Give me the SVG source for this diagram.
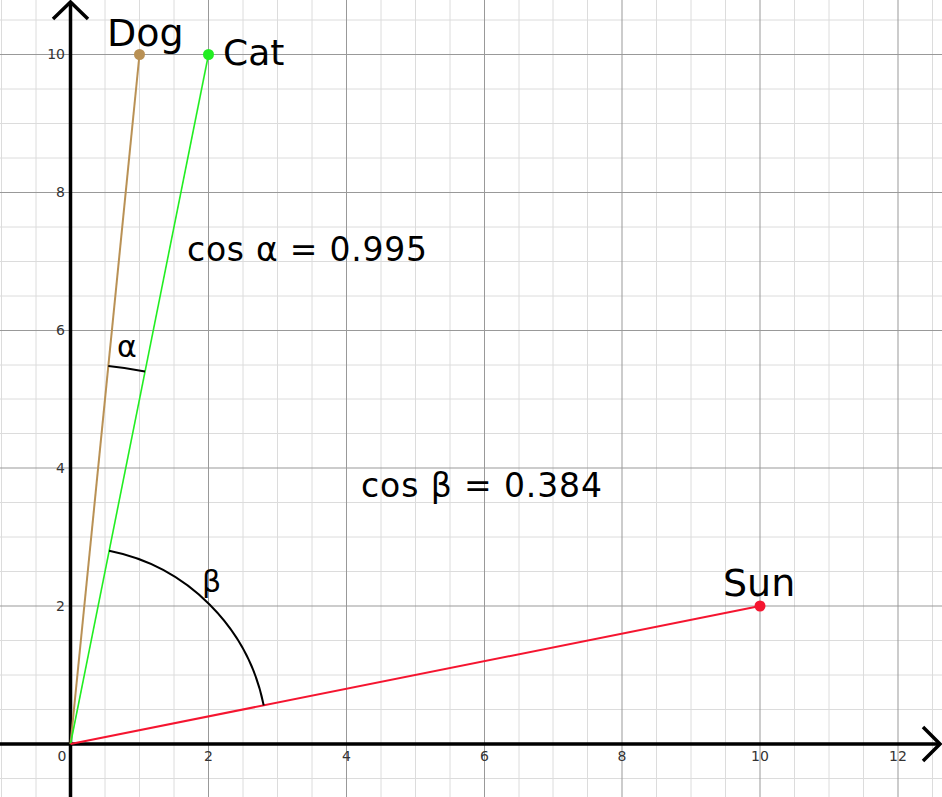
<svg xmlns="http://www.w3.org/2000/svg" width="942" height="797" viewBox="0 0 942 797">
<style>
.minor{stroke:#dcdcdc;stroke-width:1;fill:none}
.major{stroke:#999;stroke-width:1;fill:none}
.axis{stroke:#000;stroke-width:3.5;fill:none}
.tick{font-family:"DejaVu Sans","Liberation Sans",sans-serif;font-size:14px;fill:#333}
.lbl{font-family:"DejaVu Sans","Liberation Sans",sans-serif;fill:#000}
.arc{stroke:#000;stroke-width:2;fill:none}
</style>
<rect width="942" height="797" fill="#fff"/>
<g id="grid">
<path class="minor" d="M1.5 0V797M36 0V797M105 0V797M139.5 0V797M174 0V797M243 0V797M277.5 0V797M312 0V797M381 0V797M415.5 0V797M450 0V797M519 0V797M553 0V797M587.5 0V797M656.5 0V797M691 0V797M725.5 0V797M794.5 0V797M829 0V797M863.5 0V797M932.5 0V797"/>
<path class="minor" d="M0 778.5H942M0 709.5H942M0 675H942M0 640.5H942M0 571.5H942M0 537H942M0 502.5H942M0 433.5H942M0 399H942M0 365H942M0 296H942M0 261.5H942M0 227H942M0 158H942M0 123.5H942M0 89H942M0 20H942"/>
<path class="major" d="M208.5 0V797M346.5 0V797M484.5 0V797M622 0V797M760 0V797M898 0V797"/>
<path class="major" d="M0 606H942M0 468H942M0 330.5H942M0 192.5H942M0 54.5H942"/>
</g>
<g id="axes">
<path class="axis" d="M70.5 797V3"/>
<path class="axis" d="M53 19L70.5 2L88 19"/>
<path class="axis" d="M0 744H939"/>
<path class="axis" d="M923 727L940 744L923 761"/>
</g>
<g id="ticks" class="tick">
<text x="62" y="761" text-anchor="middle">0</text>
<text x="208.5" y="761" text-anchor="middle">2</text>
<text x="346.5" y="761" text-anchor="middle">4</text>
<text x="484.5" y="761" text-anchor="middle">6</text>
<text x="622" y="761" text-anchor="middle">8</text>
<text x="760" y="761" text-anchor="middle">10</text>
<text x="898" y="761" text-anchor="middle">12</text>
<text x="65" y="611" text-anchor="end">2</text>
<text x="65" y="473" text-anchor="end">4</text>
<text x="65" y="335" text-anchor="end">6</text>
<text x="65" y="197" text-anchor="end">8</text>
<text x="65" y="59" text-anchor="end">10</text>
</g>
<g id="connectors">
<line x1="70.5" y1="744" x2="139.5" y2="54.5" stroke="#b99155" stroke-width="2"/>
<line x1="70.5" y1="744" x2="208.5" y2="54.5" stroke="#22ee22" stroke-width="1.6"/>
<line x1="70.5" y1="744" x2="760" y2="606" stroke="#f51530" stroke-width="2"/>
<path id="arc-alpha" class="arc" d="M108.3 365.9A380 380 0 0 1 145 371.4"/>
<path id="arc-beta" class="arc" d="M109.1 550.8A197 197 0 0 1 263.7 705.4"/>
</g>
<g id="dog">
<circle cx="139.5" cy="54.5" r="5.5" fill="#b99155"/>
<text class="lbl" x="107" y="46" font-size="38">Dog</text>
</g>
<g id="cat">
<circle cx="208.5" cy="54.5" r="5.5" fill="#22ee22"/>
<text class="lbl" x="223" y="65" font-size="36">Cat</text>
</g>
<g id="sun">
<circle cx="760" cy="606" r="5.5" fill="#f51530"/>
<text class="lbl" x="723" y="596" font-size="38">Sun</text>
</g>
<g id="labels" class="lbl">
<text x="117" y="357" font-size="30">α</text>
<text x="202" y="592" font-size="30">β</text>
<text x="187" y="261" font-size="33" textLength="240" lengthAdjust="spacing">cos α = 0.995</text>
<text x="361" y="497" font-size="33" textLength="241" lengthAdjust="spacing">cos β = 0.384</text>
</g>
</svg>
